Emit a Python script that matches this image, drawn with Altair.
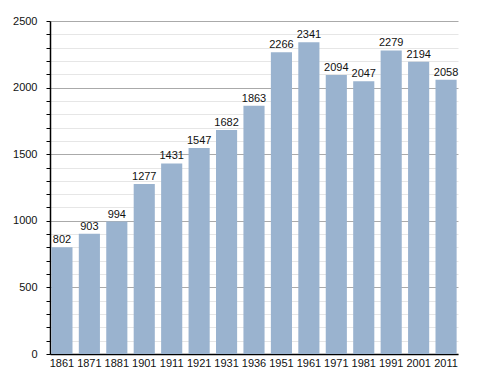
import altair as alt
import pandas as pd

years = ["1861", "1871", "1881", "1901", "1911", "1921", "1931", "1936",
         "1951", "1961", "1971", "1981", "1991", "2001", "2011"]
population = [802, 903, 994, 1277, 1431, 1547, 1682, 1863,
              2266, 2341, 2094, 2047, 2279, 2194, 2058]

df = pd.DataFrame({"year": years, "pop": population})

FONT = "Liberation Sans"

x = alt.X("year:N", sort=years, title=None,
          scale=alt.Scale(paddingInner=0.23, paddingOuter=0.05),
          axis=alt.Axis(labelAngle=0, ticks=False, domainColor="#000",
                        labelColor="#111", labelFontSize=11, labelFont=FONT,
                        labelPadding=3))

y = alt.Y("pop:Q", title=None,
          scale=alt.Scale(domain=[0, 2500], nice=False),
          axis=alt.Axis(values=list(range(0, 2501, 100)),
                        tickCount=40,
                        labelExpr="datum.value % 500 === 0 ? datum.label : ''",
                        labelOverlap=False,
                        format="d",
                        tickSize=4, tickColor="#000", domainColor="#000",
                        labelColor="#111", labelFontSize=11, labelFont=FONT,
                        labelPadding=9,
                        gridColor={"condition": {"test": "datum.value % 500 === 0", "value": "#aaaaaa"},
                                   "value": "#e6e6e6"}))

bars = alt.Chart(df).mark_bar(color="#9ab3cf").encode(x=x, y=y)

labels = alt.Chart(df).mark_text(dy=-7, fontSize=11, font=FONT, color="#111").encode(
    x=alt.X("year:N", sort=years), y="pop:Q", text="pop:Q")

chart = alt.layer(bars, labels).properties(
    width=408, height=333,
    padding={"left": 4, "top": 7, "right": 5, "bottom": 0}
).configure_view(stroke=None).configure_axis(domainWidth=1.5)

chart.save("out.html", embed_options={"renderer": "svg", "actions": False})
